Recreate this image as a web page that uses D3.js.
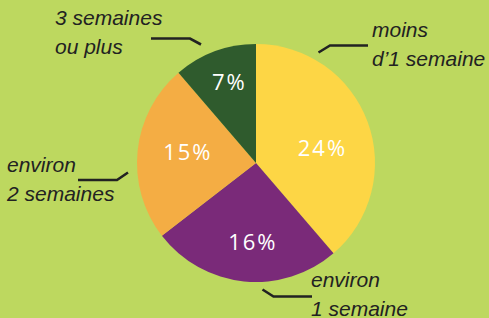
<!DOCTYPE html>
<html><head><meta charset="utf-8">
<script src="https://cdn.jsdelivr.net/npm/d3@7"></script>
<style>html,body{margin:0;padding:0;background:#bdd85f;}svg{display:block;}</style>
</head><body>
<svg id="chart" width="489" height="318"></svg>
<script>
// Data
const categories = ["moins d’1 semaine", "environ 1 semaine", "environ 2 semaines", "3 semaines ou plus"];
const values = [24, 16, 15, 7];
const valueLabels = ["24%", "16%", "15%", "7%"];
const nameLines = [["moins", "d’1 semaine"], ["environ", "1 semaine"], ["environ", "2 semaines"], ["3 semaines", "ou plus"]];
const colors = ["#fdd645", "#7a2a79", "#f4ad44", "#2f5b2d"];

// Layout
const W = 489, H = 318, cx = 256, cy = 163, R = 119;
const pctPos = [{r: 68, da: 8}, {r: 79, da: -3.5}, {r: 69, da: 3}, {r: 85, da: 2}];
const namePos = [{x: 372, y: 37}, {x: 311, y: 287}, {x: 7, y: 172}, {x: 55, y: 25}];
const leaders = [
  [[318.5,52.5],[330,45.5],[368,45.5]],
  [[262.5,289.5],[273.5,296.5],[312,296.5]],
  [[78,180],[117,180],[128,172.5]],
  [[151,38.5],[190,38.5],[201,44.5]]
];

const svg = d3.select("#chart");
svg.append("rect").attr("width", W).attr("height", H).attr("fill", "#bdd85f");
const g = svg.append("g").attr("transform", `translate(${cx},${cy})`);
const pie = d3.pie().sort(null).value(d => d);
const arcs = pie(values);
const arc = d3.arc().innerRadius(0).outerRadius(R);
g.selectAll("path.slice").data(arcs).join("path")
  .attr("class", "slice").attr("d", arc).attr("fill", (d, i) => colors[i]);

g.selectAll("text.pct").data(arcs).join("text")
  .attr("class", "pct")
  .attr("x", (d, i) => { const a = (d.startAngle + d.endAngle) / 2 + pctPos[i].da * Math.PI / 180; return pctPos[i].r * Math.sin(a); })
  .attr("y", (d, i) => { const a = (d.startAngle + d.endAngle) / 2 + pctPos[i].da * Math.PI / 180; return -pctPos[i].r * Math.cos(a); })
  .attr("dy", "0.36em")
  .attr("text-anchor", "middle")
  .attr("fill", "#ffffff")
  .style("font-family", "'Open Sans', sans-serif")
  .style("font-size", "22px")
  .style("letter-spacing", "2px")
  .text((d, i) => valueLabels[i]);

const line = d3.line();
svg.selectAll("path.leader").data(leaders).join("path")
  .attr("class", "leader").attr("d", line)
  .attr("fill", "none").attr("stroke", "#222").attr("stroke-width", 2.6);

svg.selectAll("text.name").data(nameLines).join("text")
  .attr("class", "name")
  .attr("x", (d, i) => namePos[i].x).attr("y", (d, i) => namePos[i].y)
  .attr("fill", "#222")
  .style("font-family", "'Liberation Sans', Arial, sans-serif")
  .style("font-style", "italic")
  .style("font-size", "21px")
  .each(function(d, i) {
    d3.select(this).selectAll("tspan").data(d).join("tspan")
      .attr("x", namePos[i].x).attr("dy", (t, j) => j === 0 ? 0 : 28.5).text(t => t);
  });
</script>
</body></html>
